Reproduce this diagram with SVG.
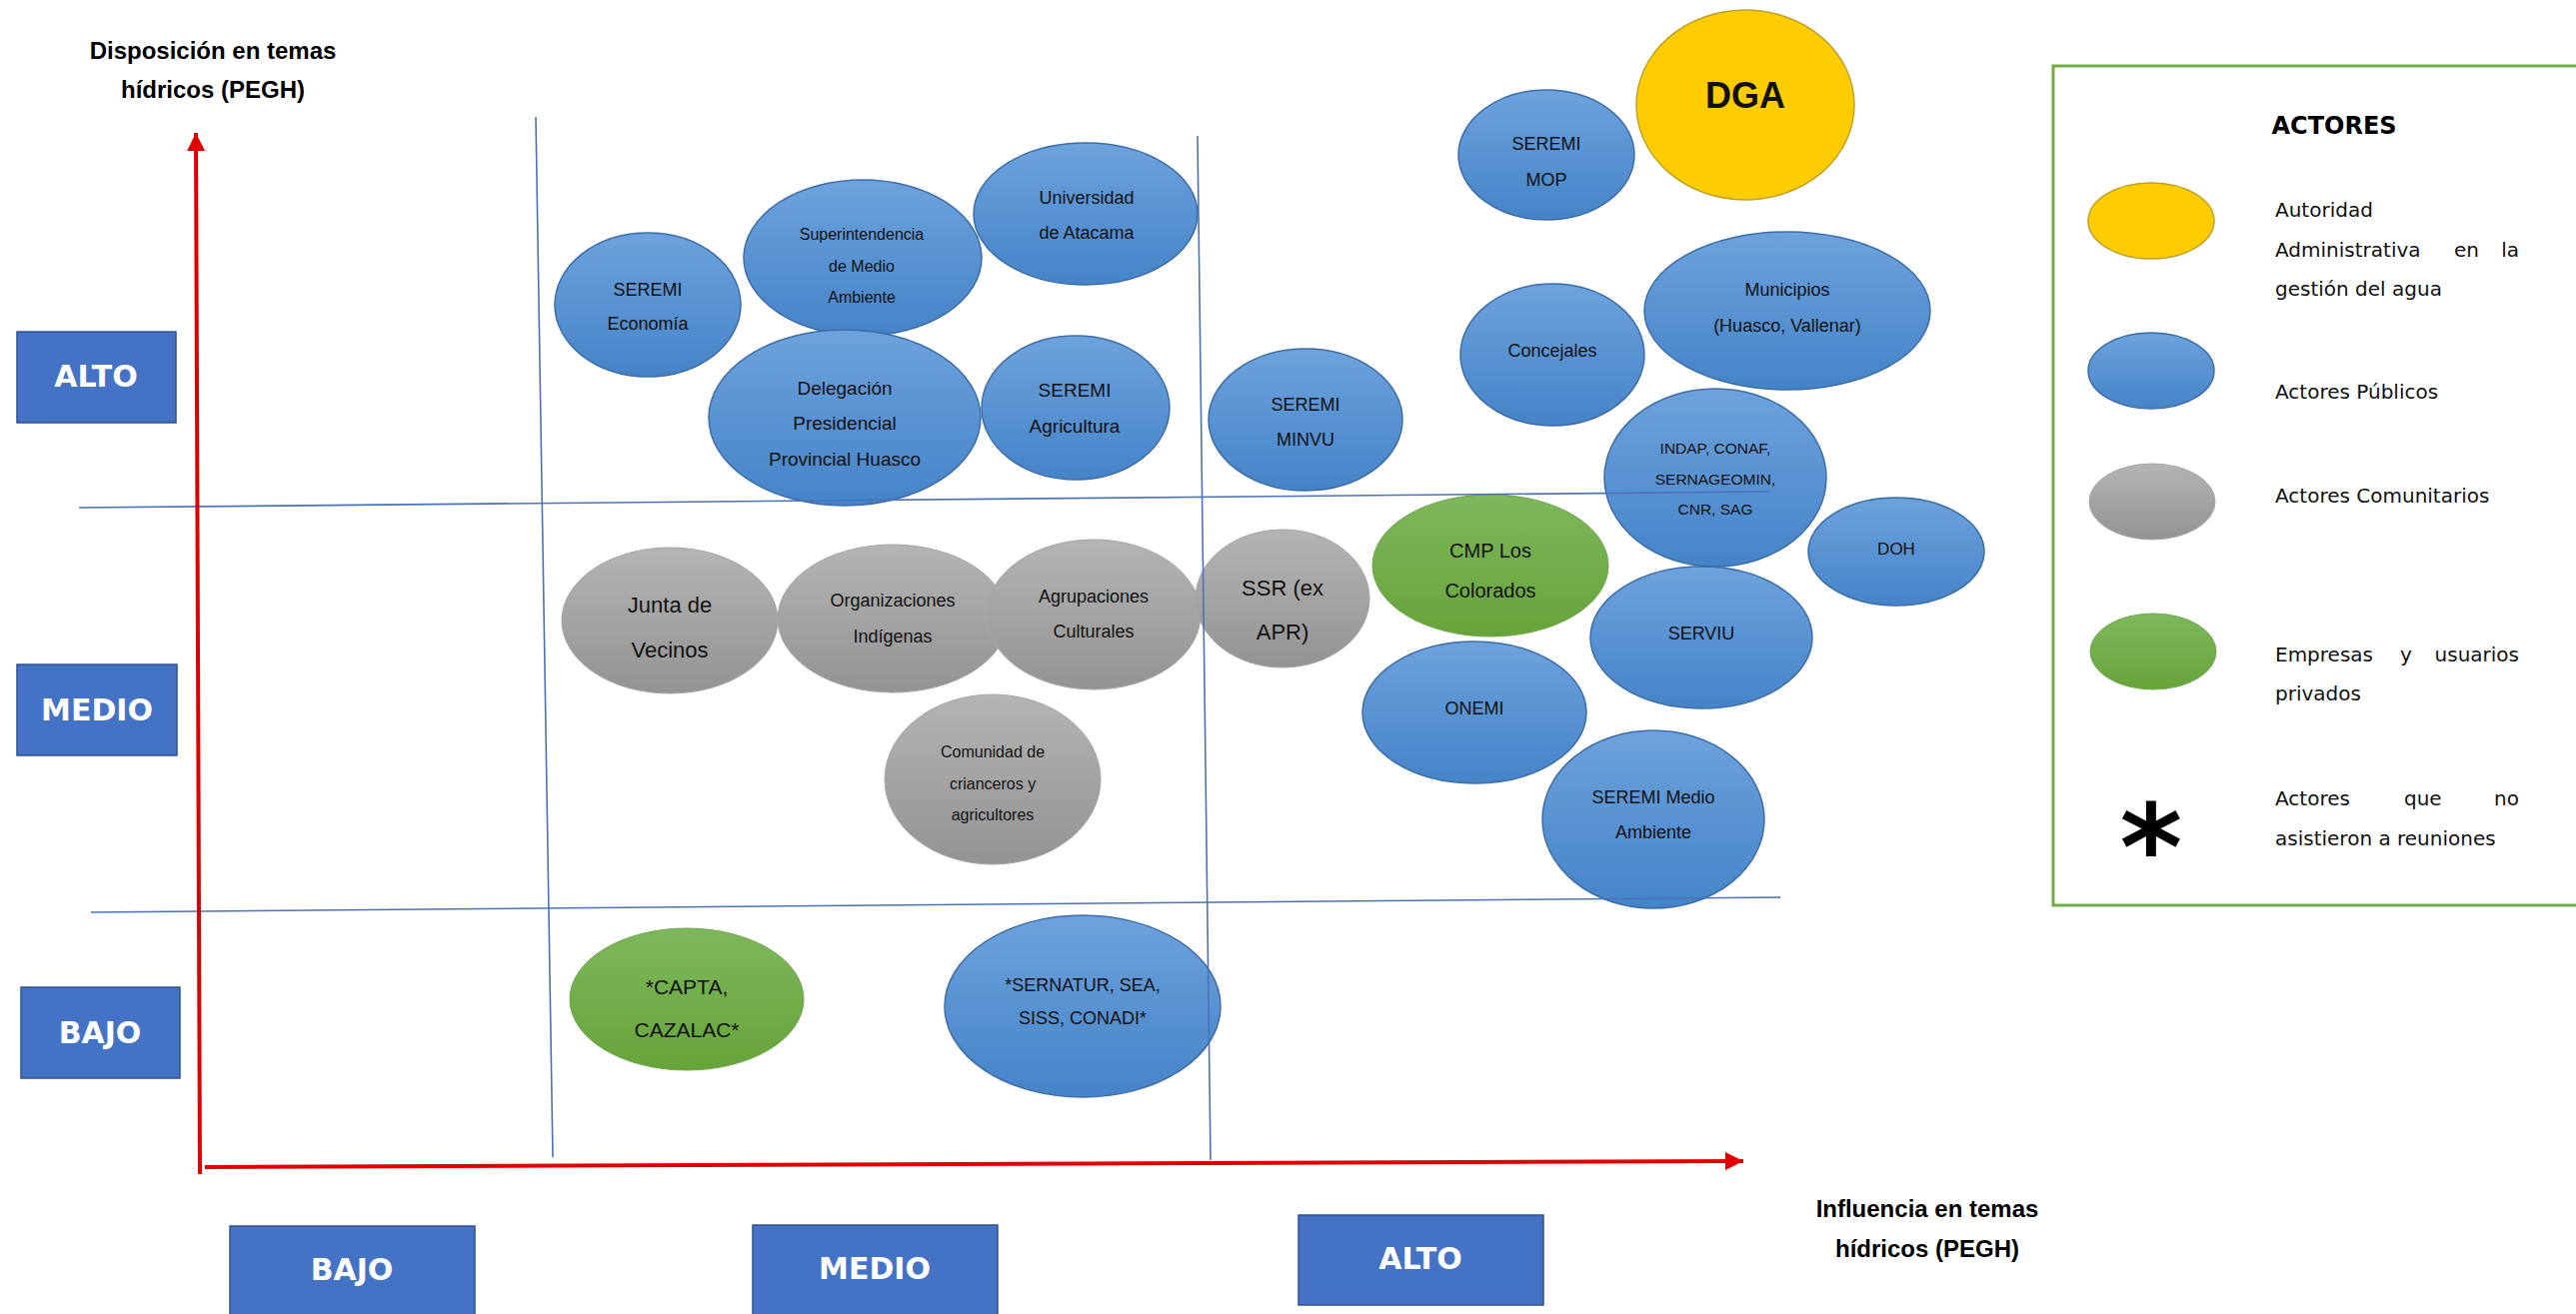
<svg xmlns="http://www.w3.org/2000/svg" width="2577" height="1315" viewBox="0 0 2577 1315">
<style>
.t{font-family:"Liberation Sans",Arial,sans-serif;fill:#111;text-anchor:middle}
.ax{font-family:"Liberation Sans",Arial,sans-serif;font-weight:bold;font-size:24px;fill:#000;text-anchor:middle}
.bx{fill:#4472C4;stroke:#2F528F;stroke-width:1.5}
.bt{font-family:"DejaVu Sans",Verdana,sans-serif;font-weight:bold;font-size:30px;fill:#fff;text-anchor:middle}
.pub{fill:url(#gB);stroke:#3C6DA6;stroke-width:1.5}
.com{fill:url(#gG);stroke:#A5A5A5;stroke-width:1}
.emp{fill:url(#gE);stroke:#6FA64C;stroke-width:1}
.aut{fill:#FFCC00;stroke:#BFA02A;stroke-width:1.5}
.grid{stroke:#4A72B8;stroke-width:1.6;fill:none}
.red{stroke:#E00000;stroke-width:4;fill:none}
.lg{font-family:"DejaVu Sans",Verdana,sans-serif;font-size:20px;fill:#111}
</style>
<defs>
<linearGradient id="gB" x1="0" y1="0" x2="0" y2="1"><stop offset="0" stop-color="#6DA2DD"/><stop offset="1" stop-color="#4583C8"/></linearGradient>
<linearGradient id="gG" x1="0" y1="0" x2="0" y2="1"><stop offset="0" stop-color="#B4B4B4"/><stop offset="1" stop-color="#939393"/></linearGradient>
<linearGradient id="gE" x1="0" y1="0" x2="0" y2="1"><stop offset="0" stop-color="#7EB75C"/><stop offset="1" stop-color="#66A43A"/></linearGradient>
<marker id="ah" markerUnits="userSpaceOnUse" markerWidth="20" markerHeight="18" refX="18" refY="9" orient="auto"><path d="M0,0 L18,9 L0,18 Z" fill="#E00000"/></marker>
</defs>

<g id="axis-titles">
<text class="ax" x="213" y="59">Disposición en temas</text>
<text class="ax" x="213" y="98">hídricos (PEGH)</text>
<text class="ax" x="1928" y="1218">Influencia en temas</text>
<text class="ax" x="1928" y="1258">hídricos (PEGH)</text>
</g>

<g id="level-boxes">
<g id="y-alto"><rect class="bx" x="17" y="332" width="159" height="91"/><text class="bt" x="96" y="387">ALTO</text></g>
<g id="y-medio"><rect class="bx" x="17" y="665" width="160" height="91"/><text class="bt" x="97" y="721">MEDIO</text></g>
<g id="y-bajo"><rect class="bx" x="21" y="988" width="159" height="91"/><text class="bt" x="100" y="1044">BAJO</text></g>
<g id="x-bajo"><rect class="bx" x="230" y="1227" width="245" height="100"/><text class="bt" x="352" y="1281">BAJO</text></g>
<g id="x-medio"><rect class="bx" x="753" y="1226" width="245" height="100"/><text class="bt" x="875" y="1280">MEDIO</text></g>
<g id="x-alto"><rect class="bx" x="1299" y="1216" width="245" height="90"/><text class="bt" x="1421" y="1270">ALTO</text></g>
</g>

<g id="nodes">
<g id="n-economia"><ellipse class="pub" cx="648" cy="305" rx="93" ry="72"/><text class="t" font-size="18" x="648" y="296">SEREMI</text><text class="t" font-size="18" x="648" y="330">Economía</text></g>
<g id="n-superintendencia"><ellipse class="pub" cx="863" cy="258" rx="119" ry="78"/><text class="t" font-size="16" x="862" y="240">Superintendencia</text><text class="t" font-size="16" x="862" y="272">de Medio</text><text class="t" font-size="16" x="862" y="303">Ambiente</text></g>
<g id="n-universidad"><ellipse class="pub" cx="1086" cy="214" rx="112" ry="71"/><text class="t" font-size="18" x="1087" y="204">Universidad</text><text class="t" font-size="18" x="1087" y="239">de Atacama</text></g>
<g id="n-delegacion"><ellipse class="pub" cx="845" cy="418" rx="136" ry="88"/><text class="t" font-size="19" x="845" y="395">Delegación</text><text class="t" font-size="19" x="845" y="430">Presidencial</text><text class="t" font-size="19" x="845" y="466">Provincial Huasco</text></g>
<g id="n-agricultura"><ellipse class="pub" cx="1076" cy="408" rx="94" ry="72"/><text class="t" font-size="19" x="1075" y="397">SEREMI</text><text class="t" font-size="19" x="1075" y="433">Agricultura</text></g>
<g id="n-minvu"><ellipse class="pub" cx="1306" cy="420" rx="97" ry="71"/><text class="t" font-size="18" x="1306" y="411">SEREMI</text><text class="t" font-size="18" x="1306" y="446">MINVU</text></g>
<g id="n-mop"><ellipse class="pub" cx="1547" cy="155" rx="88" ry="65"/><text class="t" font-size="18" x="1547" y="150">SEREMI</text><text class="t" font-size="18" x="1547" y="186">MOP</text></g>
<g id="n-dga"><ellipse class="aut" cx="1746" cy="105" rx="109" ry="95"/><text class="t" font-size="36" font-weight="bold" fill="#000" x="1746" y="108">DGA</text></g>
<g id="n-concejales"><ellipse class="pub" cx="1553" cy="355" rx="92" ry="71"/><text class="t" font-size="18" x="1553" y="357">Concejales</text></g>
<g id="n-municipios"><ellipse class="pub" cx="1788" cy="311" rx="143" ry="79"/><text class="t" font-size="18" x="1788" y="296">Municipios</text><text class="t" font-size="18" x="1788" y="332">(Huasco, Vallenar)</text></g>
<g id="n-indap"><ellipse class="pub" cx="1716" cy="478" rx="111" ry="89"/><text class="t" font-size="15.5" x="1716" y="454">INDAP, CONAF,</text><text class="t" font-size="15.5" x="1716" y="485">SERNAGEOMIN,</text><text class="t" font-size="15.5" x="1716" y="515">CNR, SAG</text></g>
<g id="n-doh"><ellipse class="pub" cx="1897" cy="552" rx="88" ry="54"/><text class="t" font-size="17" x="1897" y="555">DOH</text></g>
<g id="n-cmp"><ellipse class="emp" cx="1491" cy="566" rx="118" ry="71"/><text class="t" font-size="20" x="1491" y="558">CMP Los</text><text class="t" font-size="20" x="1491" y="598">Colorados</text></g>
<g id="n-serviu"><ellipse class="pub" cx="1702" cy="638" rx="111" ry="71"/><text class="t" font-size="18" x="1702" y="640">SERVIU</text></g>
<g id="n-onemi"><ellipse class="pub" cx="1475" cy="713" rx="112" ry="71"/><text class="t" font-size="18" x="1475" y="715">ONEMI</text></g>
<g id="n-seremi-ma"><ellipse class="pub" cx="1654" cy="820" rx="111" ry="89"/><text class="t" font-size="18" x="1654" y="804">SEREMI Medio</text><text class="t" font-size="18" x="1654" y="839">Ambiente</text></g>
<g id="n-junta"><ellipse class="com" cx="670" cy="621" rx="108" ry="73"/><text class="t" font-size="22" x="670" y="613">Junta de</text><text class="t" font-size="22" x="670" y="658">Vecinos</text></g>
<g id="n-organizaciones"><ellipse class="com" cx="893" cy="619" rx="115" ry="74"/><text class="t" font-size="18" x="893" y="607">Organizaciones</text><text class="t" font-size="18" x="893" y="643">Indígenas</text></g>
<g id="n-agrupaciones"><ellipse class="com" cx="1094" cy="615" rx="107" ry="75"/><text class="t" font-size="18" x="1094" y="603">Agrupaciones</text><text class="t" font-size="18" x="1094" y="638">Culturales</text></g>
<g id="n-ssr"><ellipse class="com" cx="1283" cy="599" rx="87" ry="69"/><text class="t" font-size="22" x="1283" y="596">SSR (ex</text><text class="t" font-size="22" x="1283" y="640">APR)</text></g>
<g id="n-comunidad"><ellipse class="com" cx="993" cy="780" rx="108" ry="85"/><text class="t" font-size="16" x="993" y="758">Comunidad de</text><text class="t" font-size="16" x="993" y="790">crianceros y</text><text class="t" font-size="16" x="993" y="821">agricultores</text></g>
<g id="n-capta"><ellipse class="emp" cx="687" cy="1000" rx="117" ry="71"/><text class="t" font-size="21" x="687" y="995">*CAPTA,</text><text class="t" font-size="21" x="687" y="1038">CAZALAC*</text></g>
<g id="n-sernatur"><ellipse class="pub" cx="1083" cy="1007" rx="138" ry="91"/><text class="t" font-size="18" x="1083" y="992">*SERNATUR, SEA,</text><text class="t" font-size="18" x="1083" y="1025">SISS, CONADI*</text></g>
</g>

<g id="connectors">
<line class="grid" x1="536" y1="117" x2="553" y2="1158"/>
<line class="grid" x1="1198" y1="136" x2="1211" y2="1161"/>
<line class="grid" x1="79" y1="508" x2="1770" y2="492"/>
<line class="grid" x1="91" y1="913" x2="1781" y2="898"/>
<line class="red" x1="200" y1="1175" x2="196" y2="133" marker-end="url(#ah)"/>
<line class="red" x1="205" y1="1168" x2="1744" y2="1162" marker-end="url(#ah)"/>
</g>

<g id="legend">
<rect x="2054" y="66" width="560" height="840" fill="#fff" stroke="#70AD47" stroke-width="3"/>
<text x="2335" y="134" font-family="DejaVu Sans, Verdana, sans-serif" font-weight="bold" font-size="24" text-anchor="middle" fill="#000">ACTORES</text>
<ellipse class="aut" cx="2152" cy="221" rx="63" ry="38"/>
<text class="lg" x="2276" y="217">Autoridad</text>
<text class="lg" y="257"><tspan x="2276">Administrativa</tspan><tspan x="2455">en</tspan><tspan x="2520" text-anchor="end">la</tspan></text>
<text class="lg" x="2276" y="296">gestión del agua</text>
<ellipse class="pub" cx="2152" cy="371" rx="63" ry="38"/>
<text class="lg" x="2276" y="399">Actores Públicos</text>
<ellipse class="com" cx="2153" cy="502" rx="63" ry="38"/>
<text class="lg" x="2276" y="503">Actores Comunitarios</text>
<ellipse class="emp" cx="2154" cy="652" rx="63" ry="38"/>
<text class="lg" y="662"><tspan x="2276">Empresas</tspan><tspan x="2401">y</tspan><tspan x="2520" text-anchor="end">usuarios</tspan></text>
<text class="lg" x="2276" y="701">privados</text>
<text x="2152" y="890" font-family="DejaVu Sans, Verdana, sans-serif" font-weight="bold" font-size="120" text-anchor="middle" fill="#000">*</text>
<text class="lg" y="806"><tspan x="2276">Actores</tspan><tspan x="2405">que</tspan><tspan x="2520" text-anchor="end">no</tspan></text>
<text class="lg" x="2276" y="846">asistieron a reuniones</text>
</g>
</svg>
